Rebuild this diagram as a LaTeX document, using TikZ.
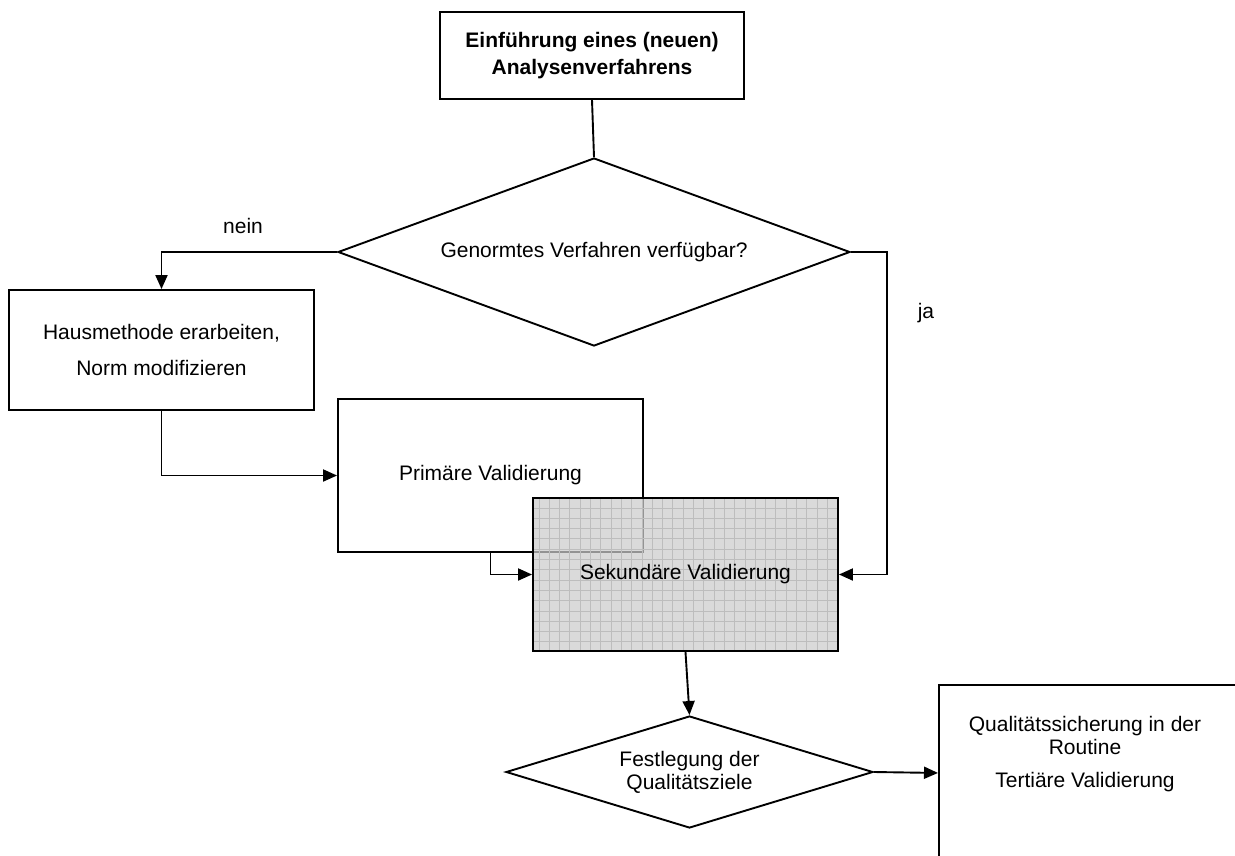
\documentclass[tikz,border=0pt]{standalone}
\usepackage{fontspec}
\setmainfont{Liberation Sans}
\usetikzlibrary{shapes.geometric,arrows.meta}
\tikzset{box/.style={draw,rectangle,fill=white,align=center,font=\fontsize{21}{23}\selectfont}}
\tikzset{decision/.style={draw,diamond,fill=white,align=center,inner sep=0pt,font=\fontsize{21}{23}\selectfont}}
\tikzset{lbl/.style={font=\fontsize{21}{23}\selectfont}}

\begin{document}
\begin{tikzpicture}
[x=1pt, y=-1pt, line width=1.9pt,
 flow/.style={-{Triangle[length=14pt,width=12pt]}},
 gridline/.style={draw=black!26,line width=0.6pt}]
\clip (0,0) rectangle (1235,855);
\node (start) at (592,55.5)[box, minimum width=304, minimum height=87]{\textbf{Einführung eines (neuen)}\\[4pt]\textbf{Analysenverfahrens}};
\node (dec1) at (594,252)[decision, shape aspect=2.7, minimum width=512, minimum height=188]{Genormtes Verfahren verfügbar?};
\node (nein) at (243,226)[lbl]{nein};
\node (ja) at (926,313)[lbl]{ja};
\node (haus) at (161.5,350)[box, minimum width=305, minimum height=120]{Hausmethode erarbeiten,\\[13pt]Norm modifizieren};
\node (prim) at (490.5,475.5)[box, minimum width=305, minimum height=153]{Primäre Validierung};
\node (sek) at (685.5,574.5)[box, minimum width=305, minimum height=153, fill=black!20, fill opacity=0.72, text opacity=1,
  path picture={\draw[gridline] (path picture bounding box.south west) grid[step=10.3pt] (path picture bounding box.north east);}]{Sekundäre Validierung};
\node (dec2) at (689.5,772)[decision, shape aspect=3.3, minimum width=367, minimum height=112]{Festlegung der\\Qualitätsziele};
\node (qs) at (938,684)[box, anchor=north west, minimum width=330, minimum height=176]{};
\node (qstext) at (1085,754)[lbl, align=center]{Qualitätssicherung in der\\Routine\\[10pt]Tertiäre Validierung};
\coordinate (jaknick) at (887,252);

\draw (start.south) -- (dec1.north);
\draw[flow] (dec1.west) -| (haus.north);
\draw[flow] (haus.south) |- (prim.west);
\draw[flow] (prim.south) |- (sek.west);
\draw[flow] (dec1.east) -- (jaknick) |- (sek.east);
\draw[flow] (sek.south) -- (dec2.north);
\draw[flow] (dec2.east) -- (qs.west);
\end{tikzpicture}
\end{document}
